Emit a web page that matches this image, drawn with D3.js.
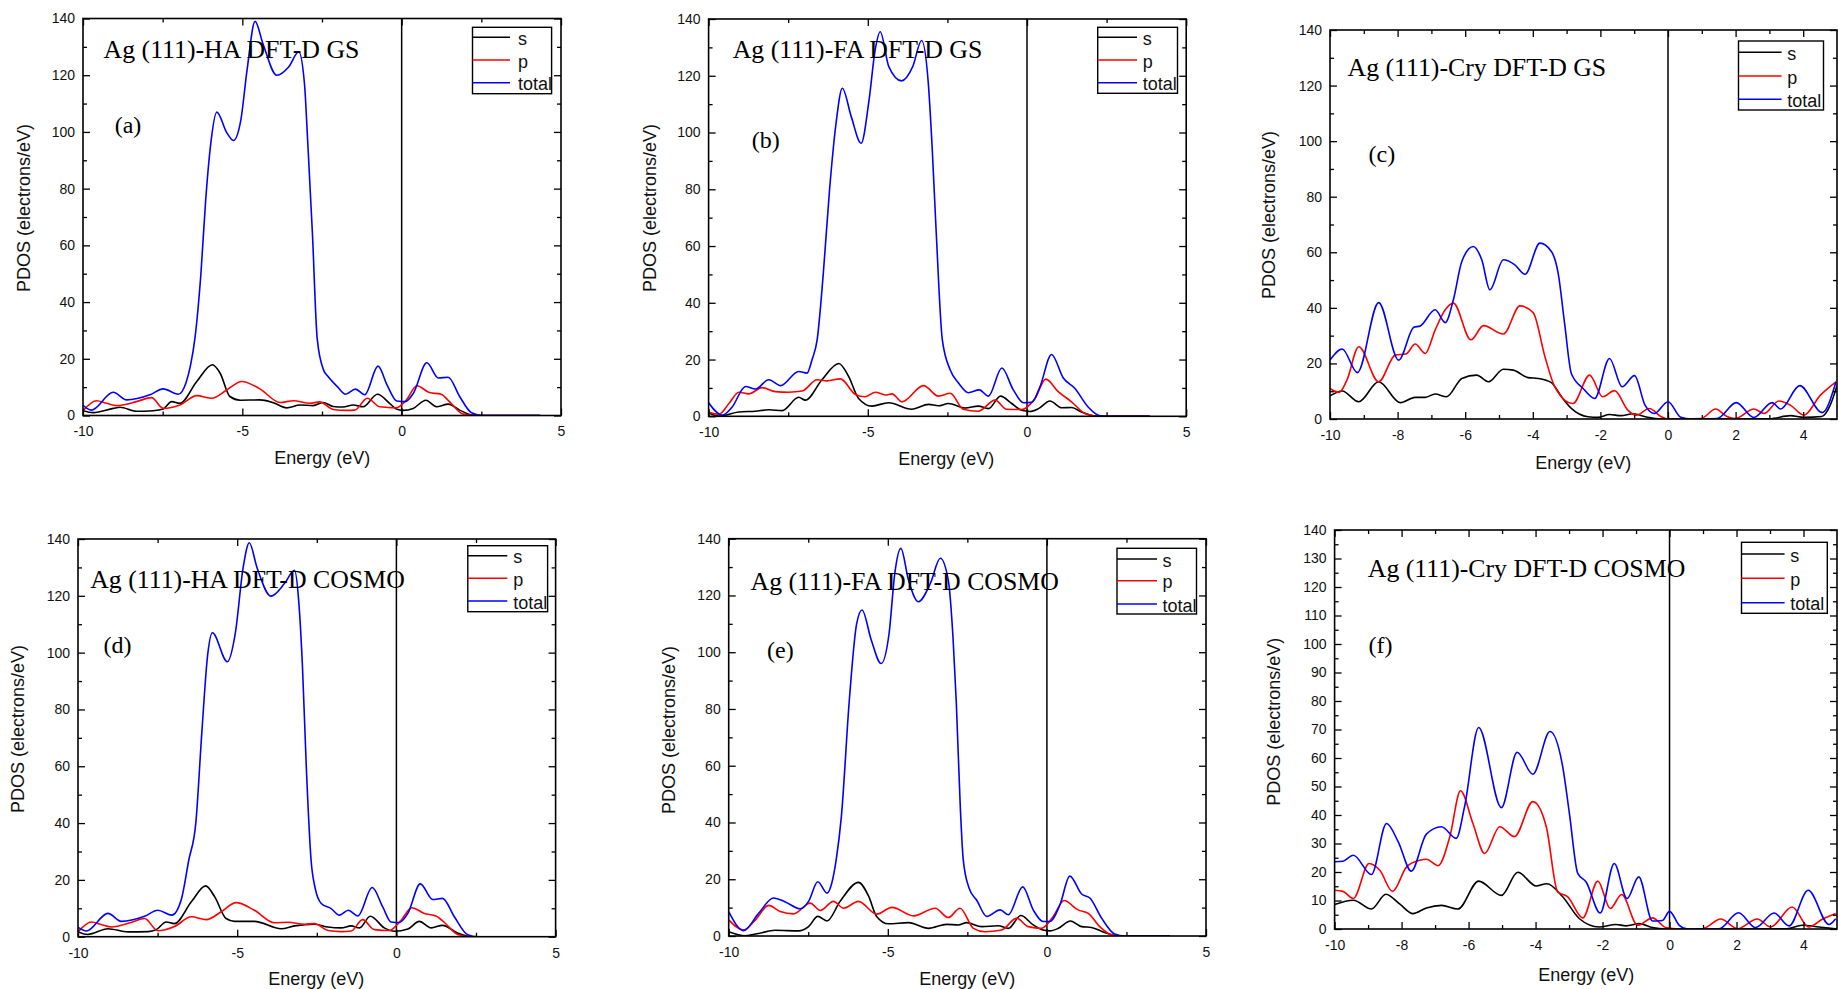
<!DOCTYPE html>
<html><head><meta charset="utf-8">
<script src="https://cdn.jsdelivr.net/npm/d3@7"></script>
<style>body{margin:0;background:#fff}</style>
</head><body><svg id="chart" width="1838" height="989"></svg>
<script>
// ---------------- DATA ----------------
const seriesNames = ["s", "p", "total"];
const panelTitles = ["Ag (111)-HA DFT-D GS", "Ag (111)-FA DFT-D GS", "Ag (111)-Cry DFT-D GS",
                     "Ag (111)-HA DFT-D COSMO", "Ag (111)-FA DFT-D COSMO", "Ag (111)-Cry DFT-D COSMO"];
const panelLetters = ["(a)", "(b)", "(c)", "(d)", "(e)", "(f)"];
const xLabel = "Energy (eV)";
const yLabel = "PDOS (electrons/eV)";
const xDomain = [-10, 5];
const yDomain = [0, 140];
const xMajorWide = [-10, -5, 0, 5];
const xMinorWide = [-7.5, -2.5, 2.5];
const xMajorCry = [-10, -8, -6, -4, -2, 0, 2, 4];
const xMinorCry = [-9, -7, -5, -3, -1, 1, 3];
const yMajor20 = [0, 20, 40, 60, 80, 100, 120, 140];
const yMinor10 = [10, 30, 50, 70, 90, 110, 130];
const yMajor10 = [0, 10, 20, 30, 40, 50, 60, 70, 80, 90, 100, 110, 120, 130, 140];
const yMinor5 = [5, 15, 25, 35, 45, 55, 65, 75, 85, 95, 105, 115, 125, 135];

// (a) HA GS  [energy, PDOS]
const aS = [[-10,1.7],[-9.68,1.0],[-9.05,2.5],[-8.84,2.9],[-8.32,1.5],[-7.8,1.7],[-7.48,2.3],[-7.22,4.9],[-6.96,4.3],[-6.43,12],[-5.94,17.9],[-5.7,15],[-5.39,6.7],[-5.07,5.4],[-4.45,5.5],[-4.03,4.5],[-3.61,2.7],[-3.19,3.7],[-2.78,3.5],[-2.46,4.6],[-2.15,3.2],[-1.84,3.0],[-1.52,3.7],[-1.21,3.1],[-0.76,7.5],[-0.38,4.3],[-0.17,2.3],[0.04,1.8],[0.36,2.5],[0.76,5.4],[1.09,3.1],[1.46,4.0],[1.82,1.9],[2.24,0.1],[2.6,0],[4.35,0]];
const aP = [[-10,1.7],[-9.58,5.2],[-9.26,4.3],[-8.95,3.5],[-8.32,4.9],[-7.85,6.3],[-7.48,2.5],[-6.96,3.7],[-6.43,7.0],[-5.96,6.1],[-5.49,9.0],[-5.02,12.0],[-4.45,9.4],[-3.82,4.6],[-3.4,5.2],[-2.88,4.3],[-2.57,4.8],[-2.15,2.1],[-1.73,1.8],[-1.47,1.9],[-1.08,6.1],[-0.69,3.1],[-0.17,2.7],[0.15,5.5],[0.48,10.5],[0.87,8.1],[1.24,7.5],[1.5,4.9],[1.92,0.5],[2.33,0],[4.35,0]];
const aT = [[-10,3.6],[-9.74,1.9],[-9.05,8.2],[-8.63,5.5],[-7.9,7.3],[-7.48,9.4],[-7.01,7.5],[-6.77,11.5],[-6.62,18],[-6.49,27],[-6.3,50],[-6.15,76],[-6.0,95],[-5.8,107],[-5.5,100],[-5.28,97],[-5.05,104],[-4.85,122],[-4.6,139],[-4.35,131],[-3.92,120],[-3.54,123],[-3.23,128.3],[-3.05,117],[-2.95,97],[-2.8,64],[-2.65,27],[-2.45,16],[-2.33,14],[-2.02,10.2],[-1.76,7.5],[-1.45,9.3],[-1.16,7.3],[-0.74,17.4],[-0.46,10.8],[-0.15,5.1],[0.11,4.9],[0.37,7.9],[0.79,18.6],[1.15,13.2],[1.46,13.5],[1.82,6.7],[2.19,1.0],[2.55,0],[4.35,0]];

// (b) FA GS
const bS = [[-10,1.2],[-9.68,0.1],[-9.05,1.5],[-8.53,1.8],[-8.11,2.3],[-7.69,2.0],[-7.17,6.7],[-6.96,5.7],[-6.44,12.9],[-5.91,18.6],[-5.6,14.0],[-5.29,6.3],[-4.87,3.6],[-4.35,4.8],[-3.62,2.5],[-3.09,4.2],[-2.78,3.7],[-2.47,4.5],[-1.94,2.9],[-1.53,3.6],[-1.21,2.7],[-0.83,7.1],[-0.48,4.5],[-0.17,2.1],[0.09,1.7],[0.36,2.7],[0.72,5.4],[1.09,3.0],[1.4,3.1],[1.71,1.5],[2.13,0.1],[2.4,0],[3.86,0]];
const bP = [[-10,1.5],[-9.68,0.7],[-9.36,4.5],[-9.05,8.5],[-8.74,7.9],[-8.32,10.1],[-7.9,8.7],[-7.48,8.5],[-7.06,8.9],[-6.59,12.9],[-6.28,12.5],[-5.86,13.2],[-5.39,7.7],[-5.08,6.9],[-4.76,8.5],[-4.45,7.5],[-4.24,7.9],[-3.93,5.1],[-3.25,10.8],[-2.78,7.1],[-2.41,8.1],[-2.0,2.5],[-1.53,1.8],[-1.0,5.7],[-0.64,2.5],[-0.17,2.4],[0.25,6.3],[0.59,13.1],[0.98,8.7],[1.4,5.1],[1.82,1.0],[2.24,0],[3.86,0]];
const bT = [[-10,4.8],[-9.57,0.4],[-9.26,3.3],[-8.84,10.5],[-8.53,9.6],[-8.11,12.9],[-7.74,10.8],[-7.17,15.8],[-6.91,15.2],[-6.75,20],[-6.59,27],[-6.4,50],[-6.2,80],[-6.0,103],[-5.8,115.6],[-5.52,105.6],[-5.21,96.2],[-4.96,111.5],[-4.77,129],[-4.61,135.5],[-4.34,123.2],[-3.94,118.2],[-3.59,123.2],[-3.31,132.4],[-3.1,117.4],[-2.98,95],[-2.85,64.5],[-2.66,27],[-2.41,16.3],[-2.15,11.7],[-1.84,8.3],[-1.5,9.3],[-1.21,7.1],[-0.79,17.0],[-0.43,9.3],[-0.11,4.8],[0.15,4.9],[0.41,10.5],[0.77,21.8],[1.14,13.5],[1.5,9.9],[1.92,3.3],[2.24,0.4],[2.45,0],[3.86,0]];

// (c) Cry GS
const cS = [[-10,8.3],[-9.64,10.1],[-9.15,6.2],[-8.56,13.4],[-7.92,5.9],[-7.48,7.8],[-7.18,7.8],[-6.89,9.0],[-6.55,8.0],[-6.1,14.6],[-5.66,15.8],[-5.31,13.4],[-4.87,17.9],[-4.58,17.6],[-4.14,14.9],[-3.84,14.6],[-3.45,13.1],[-3.15,8.0],[-2.86,3.8],[-2.37,0.8],[-2.07,0.6],[-1.73,1.6],[-1.39,1.2],[-1.04,1.9],[-0.6,0.6],[-0.3,0.1],[0,0],[3.0,0.1],[3.62,1.2],[4.02,0.6],[4.55,0.9],[4.8,5],[5,12]];
const cP = [[-10,11.0],[-9.73,9.6],[-9.5,14],[-9.15,26.0],[-8.56,13.4],[-8.07,23.0],[-7.75,23.4],[-7.48,27.0],[-7.18,23.6],[-6.89,32],[-6.59,39.3],[-6.35,41.7],[-5.83,28.5],[-5.46,33.6],[-4.87,30.6],[-4.38,40.7],[-3.99,38.3],[-3.64,22.4],[-3.35,11.6],[-2.81,5.6],[-2.32,15.8],[-1.93,8.0],[-1.58,10.2],[-1.19,3.2],[-0.94,1.4],[-0.55,3.8],[-0.2,0.8],[0,0],[0.98,0.2],[1.41,3.6],[1.76,0.8],[2.0,0.2],[2.54,3.6],[2.84,2.0],[3.28,6.5],[3.62,5.0],[4.02,1.4],[4.51,8.6],[4.97,13.4]];
const cT = [[-10,21.2],[-9.64,25.2],[-9.19,16.7],[-8.56,41.9],[-7.97,21.2],[-7.52,33.0],[-7.33,33.5],[-6.89,39.3],[-6.59,34.7],[-6.35,42.9],[-6.1,56.7],[-5.76,62.1],[-5.51,57.3],[-5.27,46.5],[-4.87,57.3],[-4.53,55.5],[-4.23,52.1],[-3.79,63.3],[-3.45,60.3],[-3.25,52.5],[-3.06,34.5],[-2.86,16.4],[-2.51,11.0],[-2.17,7.4],[-1.73,21.8],[-1.36,11.6],[-0.99,15.6],[-0.68,5.0],[-0.4,2.0],[0,6.2],[0.38,0.6],[0.68,0],[1.46,0.2],[2.02,5.9],[2.54,0.5],[3.08,5.9],[3.33,3.6],[3.9,12.0],[4.56,2.3],[4.97,13.4]];

// (d) HA COSMO
const dS = [[-10,1.7],[-9.69,0.8],[-9.06,2.8],[-8.43,1.7],[-7.8,1.8],[-7.54,2.5],[-7.23,5.2],[-6.97,4.6],[-6.44,12.3],[-5.99,17.9],[-5.71,14.1],[-5.35,6.4],[-5.08,5.4],[-4.46,5.4],[-3.62,2.8],[-3.2,3.8],[-2.57,4.4],[-2.15,3.4],[-1.74,3.1],[-1.42,3.8],[-1.16,3.1],[-0.82,7.2],[-0.38,3.1],[-0.06,1.9],[0.36,2.7],[0.72,5.4],[1.09,3.1],[1.45,4.0],[1.92,1.3],[2.34,0],[4.25,0]];
const dP = [[-10,1.7],[-9.58,5.2],[-9.27,4.3],[-8.95,3.4],[-8.33,5.0],[-7.91,6.4],[-7.49,2.1],[-6.97,3.6],[-6.44,7.0],[-5.97,6.0],[-5.5,8.8],[-5.03,12.0],[-4.46,9.3],[-3.83,4.9],[-3.41,5.1],[-2.89,4.4],[-2.57,4.6],[-2.15,2.2],[-1.74,1.8],[-1.42,2.0],[-1.06,6.0],[-0.69,2.5],[-0.22,2.2],[0.15,5.8],[0.48,10.2],[0.88,8.2],[1.24,7.3],[1.51,5.0],[1.92,0.8],[2.34,0],[4.25,0]];
const dT = [[-10,3.4],[-9.74,2.0],[-9.06,8.2],[-8.64,5.4],[-7.91,7.2],[-7.49,9.3],[-7.05,7.6],[-6.76,12.9],[-6.52,27],[-6.3,40],[-6.11,72],[-5.93,99],[-5.78,107],[-5.31,96.8],[-5.06,106.8],[-4.81,130.2],[-4.62,138.7],[-4.38,130],[-3.94,119.9],[-3.51,124.4],[-3.2,129],[-3.07,118.5],[-2.95,95],[-2.83,59.8],[-2.68,27],[-2.55,17],[-2.36,11.7],[-2.05,9.9],[-1.79,7.6],[-1.51,9.3],[-1.21,7.3],[-0.76,17.3],[-0.43,10.5],[-0.17,5.2],[0.09,5.0],[0.36,8.2],[0.75,18.6],[1.14,13.1],[1.45,13.5],[1.82,7.0],[2.24,0.7],[2.55,0],[4.25,0]];

// (e) FA COSMO
const eS = [[-10,1.5],[-9.48,0.1],[-9.06,0.9],[-8.54,2.0],[-7.8,1.8],[-7.49,3.3],[-7.2,6.9],[-6.91,5.3],[-6.5,12.2],[-5.92,18.9],[-5.61,14.2],[-5.35,6.9],[-4.98,4.3],[-4.35,4.7],[-3.72,2.7],[-3.15,4.1],[-2.78,3.9],[-2.52,4.7],[-2.05,3.3],[-1.53,3.6],[-1.21,2.7],[-0.82,7.2],[-0.43,3.9],[-0.12,2.1],[0.09,1.8],[0.36,2.7],[0.74,5.3],[1.09,3.3],[1.4,3.0],[1.82,1.2],[2.24,0],[3.86,0]];
const eP = [[-10,5.7],[-9.53,2.1],[-9.16,5.7],[-8.74,10.8],[-8.38,8.6],[-7.96,7.8],[-7.44,11.6],[-7.12,9.0],[-6.71,12.2],[-6.39,9.8],[-5.92,12.2],[-5.35,7.7],[-4.87,10.1],[-4.19,7.1],[-3.51,9.8],[-3.1,6.5],[-2.73,9.8],[-2.31,2.7],[-1.95,1.5],[-1.42,2.1],[-0.95,6.3],[-0.59,3.3],[-0.17,2.7],[0.2,6.9],[0.54,12.5],[0.98,9.2],[1.3,8.0],[1.66,3.3],[2.03,0.4],[2.34,0],[3.86,0]];
const eT = [[-10,8.6],[-9.53,1.9],[-9.06,8.0],[-8.59,13.4],[-8.22,12.0],[-7.75,9.6],[-7.49,12.2],[-7.2,19.1],[-6.91,15.1],[-6.76,18.7],[-6.62,27],[-6.46,42],[-6.21,83],[-5.98,110],[-5.81,114.9],[-5.52,104.3],[-5.21,96],[-4.96,106.6],[-4.78,127.8],[-4.59,136.6],[-4.35,125.4],[-4.04,117.8],[-3.66,124.3],[-3.35,133.1],[-3.1,125.4],[-2.95,105],[-2.85,83],[-2.72,45],[-2.63,27],[-2.45,17],[-2.2,12.5],[-1.89,6.9],[-1.47,9.2],[-1.21,7.5],[-0.76,17.3],[-0.43,9.2],[-0.12,5.1],[0.09,5.1],[0.41,11.0],[0.72,21.1],[1.09,14.8],[1.35,13.4],[1.72,6.3],[2.13,0.7],[2.45,0],[3.86,0]];

// (f) Cry COSMO
const fS = [[-10,8.6],[-9.44,10.1],[-8.9,7.0],[-8.47,12.2],[-8.05,8.7],[-7.66,5.4],[-7.26,7.4],[-6.81,8.3],[-6.32,7.0],[-5.7,16.8],[-5.02,11.8],[-4.53,19.9],[-3.98,15.1],[-3.66,15.9],[-3.19,11.3],[-2.69,3.6],[-2.1,0.7],[-1.6,1.6],[-1.3,1.1],[-0.9,1.9],[-0.51,0.5],[-0.11,0],[3.5,0.1],[3.96,1.3],[4.46,0.7],[4.96,0.1]];
const fP = [[-10,13.6],[-9.75,13.2],[-9.44,10.7],[-8.97,23.0],[-8.65,20.6],[-8.27,13.2],[-7.85,21.8],[-7.46,24.1],[-7.26,24.5],[-6.91,22.2],[-6.56,32.4],[-6.24,48.5],[-5.87,37.0],[-5.52,26.5],[-5.07,35.9],[-4.63,32.4],[-4.08,44.7],[-3.68,35.9],[-3.34,13.0],[-3.04,11.3],[-2.59,3.9],[-2.14,16.8],[-1.77,7.2],[-1.43,12.1],[-0.95,1.3],[-0.51,3.9],[-0.11,0.5],[0.29,0],[0.98,0.1],[1.53,3.5],[2.03,0.1],[2.62,3.5],[3.02,0.7],[3.66,7.7],[4.16,0.7],[4.56,3.4],[4.96,5.4]];
const fT = [[-10,23.6],[-9.75,23.8],[-9.44,25.9],[-8.9,19.1],[-8.45,37.0],[-8.1,30.6],[-7.71,20.3],[-7.26,33.3],[-6.81,35.9],[-6.37,31.8],[-6.12,42.9],[-5.7,70.7],[-5.02,42.6],[-4.55,62.0],[-4.08,54.3],[-3.57,69.3],[-3.19,57.0],[-2.99,40.6],[-2.74,19.5],[-2.49,16.5],[-2.07,5.6],[-1.65,23.0],[-1.27,10.7],[-0.92,18.3],[-0.51,2.8],[-0.21,3.0],[0,6.2],[0.29,1.3],[0.54,0],[1.48,0.1],[2.06,5.7],[2.57,0.5],[3.12,5.6],[3.57,1.1],[4.14,13.6],[4.76,1.6],[4.96,3.6]];

// ---------------- LAYOUT / STYLE ----------------
const seriesColors = ["#000000", "#ff0000", "#0000ff"];
const serif = "'Liberation Serif','Times New Roman',Times,serif";
const sans = "'Liberation Sans',Arial,Helvetica,sans-serif";
const panels = [
  {data:[aS,aP,aT], left:83, right:561, top:18.5, bottom:415.5, xMaj:xMajorWide, xMin:xMinorWide, yMaj:yMajor20, yMin:yMinor10,
   title:[103.6,58.3], letter:[114.7,132.7], ylab:[23.7,208], xlab:[322.3,458.3],
   leg:{x0:472.5,x1:551.6,y0:27.3,y1:93.7,lx:510,tx:518,rows:[37.3,60,82.7]}},
  {data:[bS,bP,bT], left:708.6, right:1186.2, top:19, bottom:416.3, xMaj:xMajorWide, xMin:xMinorWide, yMaj:yMajor20, yMin:yMinor10,
   title:[732.7,58], letter:[751.7,148.3], ylab:[649.7,208], xlab:[946.2,459.3],
   leg:{x0:1097.7,x1:1177.5,y0:27.3,y1:93.3,lx:1137,tx:1142.7,rows:[37.3,60,82.7]}},
  {data:[cS,cP,cT], left:1330, right:1837, top:30, bottom:419, xMaj:xMajorCry, xMin:xMinorCry, yMaj:yMajor20, yMin:yMinor10,
   title:[1347.5,76], letter:[1368.5,161.7], ylab:[1268.6,215], xlab:[1583.3,462.7],
   leg:{x0:1738.5,x1:1823.5,y0:41,y1:110,lx:1781.6,tx:1787.3,rows:[52.3,76,99.3]}},
  {data:[dS,dP,dT], left:78, right:555.6, top:539, bottom:936.7, xMaj:xMajorWide, xMin:xMinorWide, yMaj:yMajor20, yMin:yMinor10,
   title:[90.2,588.3], letter:[103.6,653.3], ylab:[17.8,729], xlab:[316.3,979.3],
   leg:{x0:467.8,x1:547.6,y0:545.7,y1:611.7,lx:507.3,tx:513.2,rows:[555.7,578.3,601]}},
  {data:[eS,eP,eT], left:728.7, right:1206, top:538.7, bottom:936, xMaj:xMajorWide, xMin:xMinorWide, yMaj:yMajor20, yMin:yMinor10,
   title:[750.5,590], letter:[767,658.3], ylab:[669.4,730], xlab:[967.2,979.3],
   leg:{x0:1117,x1:1196.5,y0:548.3,y1:614,lx:1157,tx:1162.5,rows:[559,580.7,604]}},
  {data:[fS,fP,fT], left:1334.6, right:1837, top:530, bottom:929, xMaj:xMajorCry, xMin:xMinorCry, yMaj:yMajor10, yMin:yMinor5,
   title:[1367.8,577.3], letter:[1368.5,653.3], ylab:[1274.3,721.7], xlab:[1586.3,975],
   leg:{x0:1741.5,x1:1827.3,y0:542.3,y1:613.3,lx:1784.6,tx:1790.3,rows:[554,578.3,602.7]}}
];

// ---------------- DRAW ----------------
const svg = d3.select("#chart");
svg.append("rect").attr("width", 1838).attr("height", 989).attr("fill", "#fff");
const defs = svg.append("defs");
const fmt = d => String(d);

panels.forEach((P, i) => {
  const g = svg.append("g");
  const x = d3.scaleLinear().domain(xDomain).range([P.left, P.right]);
  const y = d3.scaleLinear().domain(yDomain).range([P.bottom, P.top]);
  const clipId = "clip" + i;
  defs.append("clipPath").attr("id", clipId).append("rect")
    .attr("x", P.left).attr("y", P.top).attr("width", P.right - P.left).attr("height", P.bottom - P.top);

  // Fermi level line
  g.append("line").attr("x1", x(0)).attr("x2", x(0)).attr("y1", P.top).attr("y2", P.bottom)
    .attr("stroke", "#000").attr("stroke-width", 1.5);

  // curves
  const line = d3.line().x(d => x(d[0])).y(d => y(d[1])).curve(d3.curveMonotoneX);
  P.data.forEach((s, k) => {
    g.append("path").attr("d", line(s)).attr("fill", "none")
      .attr("stroke", seriesColors[k]).attr("stroke-width", 1.6)
      .attr("clip-path", `url(#${clipId})`);
  });

  // axes (inward ticks)
  const clean = sel => sel.select(".domain").remove();
  const bottomMaj = g.append("g").attr("transform", `translate(0,${P.bottom})`)
    .call(d3.axisBottom(x).tickValues(P.xMaj).tickSize(-7).tickSizeOuter(0).tickPadding(11).tickFormat(fmt)).call(clean);
  g.append("g").attr("transform", `translate(0,${P.bottom})`)
    .call(d3.axisBottom(x).tickValues(P.xMin).tickSize(-4).tickSizeOuter(0).tickFormat("")).call(clean);
  g.append("g").attr("transform", `translate(0,${P.top})`)
    .call(d3.axisTop(x).tickValues(P.xMaj).tickSize(-7).tickSizeOuter(0).tickFormat("")).call(clean);
  g.append("g").attr("transform", `translate(0,${P.top})`)
    .call(d3.axisTop(x).tickValues(P.xMin).tickSize(-4).tickSizeOuter(0).tickFormat("")).call(clean);
  const leftMaj = g.append("g").attr("transform", `translate(${P.left},0)`)
    .call(d3.axisLeft(y).tickValues(P.yMaj).tickSize(-7).tickSizeOuter(0).tickPadding(8).tickFormat(fmt)).call(clean);
  g.append("g").attr("transform", `translate(${P.left},0)`)
    .call(d3.axisLeft(y).tickValues(P.yMin).tickSize(-4).tickSizeOuter(0).tickFormat("")).call(clean);
  g.append("g").attr("transform", `translate(${P.right},0)`)
    .call(d3.axisRight(y).tickValues(P.yMaj).tickSize(-7).tickSizeOuter(0).tickFormat("")).call(clean);
  g.append("g").attr("transform", `translate(${P.right},0)`)
    .call(d3.axisRight(y).tickValues(P.yMin).tickSize(-4).tickSizeOuter(0).tickFormat("")).call(clean);
  g.selectAll(".tick line").attr("stroke", "#000").attr("stroke-width", 1.3);
  [bottomMaj, leftMaj].forEach(a => a.selectAll("text")
    .attr("font-family", sans).attr("font-size", 14).attr("fill", "#111"));

  // frame
  g.append("rect").attr("x", P.left).attr("y", P.top)
    .attr("width", P.right - P.left).attr("height", P.bottom - P.top)
    .attr("fill", "none").attr("stroke", "#000").attr("stroke-width", 1.6);

  // axis titles
  g.append("text").attr("x", P.xlab[0]).attr("y", P.xlab[1]).attr("text-anchor", "middle")
    .attr("dominant-baseline", "central").attr("font-family", sans).attr("font-size", 18)
    .attr("fill", "#111").text(xLabel);
  g.append("text").attr("transform", `translate(${P.ylab[0]},${P.ylab[1]}) rotate(-90)`)
    .attr("text-anchor", "middle").attr("dominant-baseline", "central")
    .attr("font-family", sans).attr("font-size", 18).attr("fill", "#111").text(yLabel);

  // panel title and letter
  g.append("text").attr("x", P.title[0]).attr("y", P.title[1])
    .attr("font-family", serif).attr("font-size", 25.8).attr("fill", "#000").text(panelTitles[i]);
  g.append("text").attr("x", P.letter[0]).attr("y", P.letter[1])
    .attr("font-family", serif).attr("font-size", 24).attr("fill", "#000").text(panelLetters[i]);

  // legend
  const L = P.leg;
  g.append("rect").attr("x", L.x0).attr("y", L.y0).attr("width", L.x1 - L.x0).attr("height", L.y1 - L.y0)
    .attr("fill", "#fff").attr("stroke", "#000").attr("stroke-width", 1.4);
  seriesNames.forEach((nm, k) => {
    g.append("line").attr("x1", L.x0).attr("x2", L.lx).attr("y1", L.rows[k]).attr("y2", L.rows[k])
      .attr("stroke", seriesColors[k]).attr("stroke-width", 1.6);
    g.append("text").attr("x", L.tx).attr("y", L.rows[k] + 7.5)
      .attr("font-family", sans).attr("font-size", 18).attr("fill", "#111").text(nm);
  });
});
</script>
</body></html>
